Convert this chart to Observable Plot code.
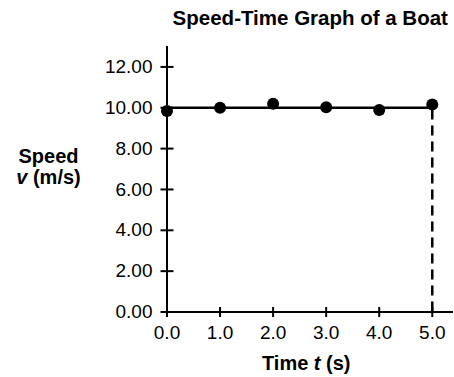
<!DOCTYPE html>
<html>
<head>
<meta charset="utf-8">
<script src="https://cdn.jsdelivr.net/npm/d3@7"></script>
<script src="https://cdn.jsdelivr.net/npm/@observablehq/plot@0.6"></script>
<style>
  html, body { margin: 0; padding: 0; background: #fff; }
  svg { display: block; }
</style>
</head>
<body>
<div id="chart"></div>
<script>
// Data
const times = [0, 1, 2, 3, 4, 5];
const speeds = [9.84, 10.0, 10.2, 10.03, 9.89, 10.16];
const fitSpeed = 10.0;
const fitTimes = [0, 5];
const xTicks = [0, 1, 2, 3, 4, 5];
const yTicks = [0, 2, 4, 6, 8, 10, 12];
const title = "Speed-Time Graph of a Boat";
const yLabel1 = "Speed";
const yLabel2 = "v (m/s)";
const xLabel = "Time t (s)";

const points = times.map((t, i) => ({t, v: speeds[i]}));
const fitLine = fitTimes.map(t => ({t, v: fitSpeed}));
const lastPoint = points[points.length - 1];

const font = "Liberation Sans, Arial, Helvetica, sans-serif";

// layout
const W = 454, H = 377, mL = 166.5, mR = 1, mT = 46, mB = 65.5;
const xDomain = [0, 5.4], yDomain = [0, 13];
const pxPerX = (W - mL - mR) / (xDomain[1] - xDomain[0]);
const pxPerY = (H - mT - mB) / (yDomain[1] - yDomain[0]);
const xTickHalf = 5 / pxPerY;   // vertical half-length of x ticks, in y units
const yTickHalf = 6.5 / pxPerX; // horizontal half-length of y ticks, in x units

const chart = Plot.plot({
  width: W,
  height: H,
  marginLeft: mL,
  marginRight: mR,
  marginTop: mT,
  marginBottom: mB,
  style: {fontFamily: font, background: "#fff", color: "#000"},
  x: {domain: xDomain, axis: null},
  y: {domain: yDomain, axis: null},
  marks: [
    // axis lines
    Plot.ruleY([0], {stroke: "#000", strokeWidth: 2}),
    Plot.ruleX([0], {stroke: "#000", strokeWidth: 2}),
    // crossing ticks
    Plot.link(xTicks, {x1: d => d, x2: d => d, y1: () => -xTickHalf, y2: () => xTickHalf, stroke: "#000", strokeWidth: 2}),
    Plot.link(yTicks, {y1: d => d, y2: d => d, x1: () => -yTickHalf, x2: () => yTickHalf, stroke: "#000", strokeWidth: 2}),
    // tick labels
    Plot.axisX({
      ticks: xTicks, tickFormat: d => d.toFixed(1), anchor: "bottom",
      tickSize: 0, tickPadding: 13, label: null,
      fontSize: 19, fill: "#000"
    }),
    Plot.axisY({
      ticks: yTicks, tickFormat: d => d.toFixed(2), anchor: "left",
      tickSize: 0, tickPadding: 14.5, label: null,
      fontSize: 19, fill: "#000"
    }),
    // dashed line at last time
    Plot.ruleX([lastPoint], {x: "t", y1: 0, y2: "v", stroke: "#000", strokeWidth: 2.5, strokeDasharray: "10,6"}),
    // best fit line
    Plot.line(fitLine, {x: "t", y: "v", stroke: "#000", strokeWidth: 2.5}),
    // points
    Plot.dot(points, {x: "t", y: "v", r: 6, fill: "#000", stroke: "none"}),
    // title
    Plot.text([title], {frameAnchor: "top", lineAnchor: "middle", dy: -28.5, fontSize: 20.5, fontWeight: "bold", fill: "#000"}),
    // y label
    Plot.text([yLabel1], {frameAnchor: "left", lineAnchor: "middle", textAnchor: "middle", dx: -118.5, dy: -22.6, fontSize: 20, fontWeight: "bold", fill: "#000"}),
    Plot.text([yLabel2], {frameAnchor: "left", lineAnchor: "middle", textAnchor: "middle", dx: -118.5, dy: -1.6, fontSize: 20, fontWeight: "bold", fill: "#000"}),
    // x label
    Plot.text([xLabel], {frameAnchor: "bottom", lineAnchor: "middle", textAnchor: "middle", dx: -4, dy: 51.6, fontSize: 20, fontWeight: "bold", fill: "#000"})
  ]
});

// italic variables
chart.querySelectorAll("text").forEach(el => {
  const s = el.textContent;
  if (s === yLabel2) {
    el.textContent = "";
    const a = document.createElementNS("http://www.w3.org/2000/svg", "tspan");
    a.setAttribute("font-style", "italic"); a.textContent = "v";
    el.appendChild(a);
    el.appendChild(document.createTextNode(" (m/s)"));
  } else if (s === xLabel) {
    el.textContent = "";
    el.appendChild(document.createTextNode("Time "));
    const a = document.createElementNS("http://www.w3.org/2000/svg", "tspan");
    a.setAttribute("font-style", "italic"); a.textContent = "t";
    el.appendChild(a);
    el.appendChild(document.createTextNode(" (s)"));
  }
});

document.getElementById("chart").appendChild(chart);
</script>
</body>
</html>
